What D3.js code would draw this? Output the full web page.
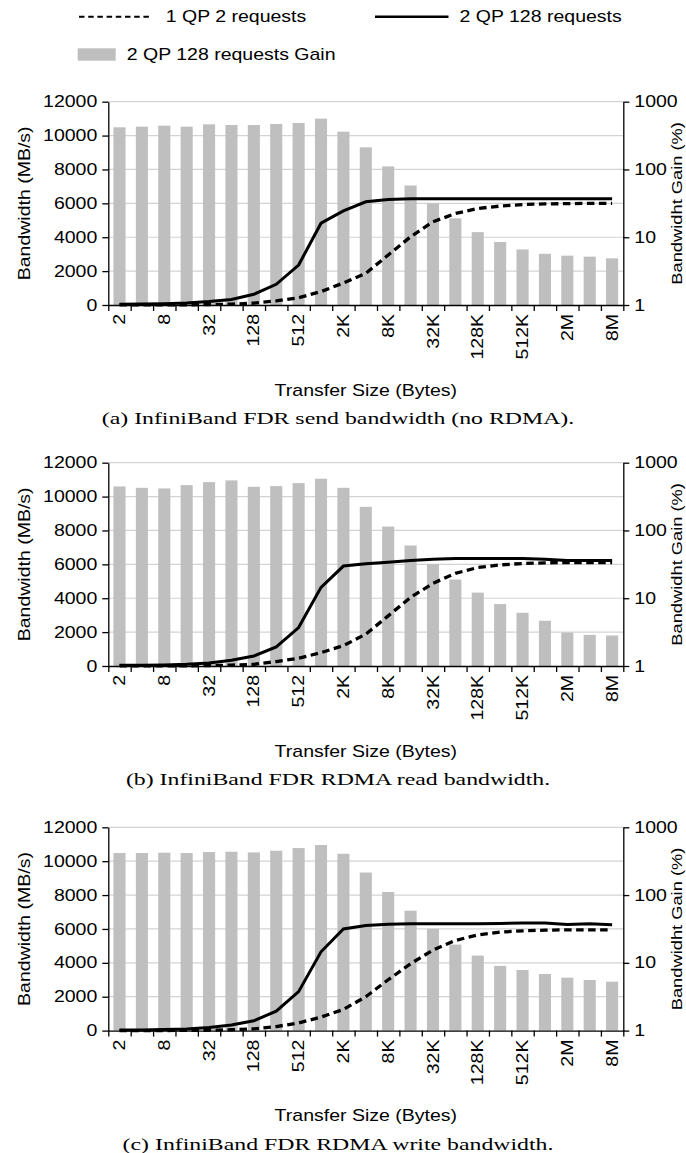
<!DOCTYPE html>
<html>
<head>
<meta charset="utf-8">
<script src="https://cdn.jsdelivr.net/npm/d3@7/dist/d3.min.js"></script>
<style>
  body { margin: 0; background: #fff; }
  svg text { font-family: "Liberation Sans", Arial, sans-serif; fill: #000; }
  .caption { font-family: "Liberation Serif", "Times New Roman", serif; }
</style>
</head>
<body>
<svg id="chart" width="686" height="1153"></svg>
<script>
// transfer sizes (x categories)
const sizes = ["2","4","8","16","32","64","128","256","512","1K","2K","4K","8K",
  "16K","32K","64K","128K","256K","512K","1M","2M","4M","8M"];
const sizeLabels = ["2","8","32","128","512","2K","8K","32K","128K","512K","2M","8M"];
const bwTicks = [0, 2000, 4000, 6000, 8000, 10000, 12000];
const gainTicks = [1, 10, 100, 1000];

// (a) send
const sendQp1 = [2, 3, 6, 12, 25, 50, 110, 240, 430, 790, 1300, 1870, 2950, 4030, 4910, 5400, 5700, 5840, 5930, 5970, 5980, 6000, 6000];
const sendQp2 = [40, 60, 80, 120, 200, 330, 630, 1220, 2360, 4830, 5550, 6090, 6230, 6270, 6270, 6270, 6270, 6270, 6270, 6270, 6270, 6270, 6270];
const sendGain = [419, 428, 443, 428, 464, 453, 453, 469, 485, 562, 361, 212, 111, 58, 31.6, 19, 11.9, 8.5, 6.6, 5.7, 5.35, 5.17, 4.88];

// (b) RDMA read
const readQp1 = [2, 3, 6, 12, 25, 50, 100, 260, 455, 790, 1200, 1880, 2960, 4050, 4880, 5470, 5810, 5970, 6050, 6090, 6110, 6110, 6110];
const readQp2 = [40, 40, 60, 100, 180, 340, 590, 1130, 2270, 4640, 5900, 6030, 6130, 6225, 6300, 6340, 6350, 6350, 6350, 6300, 6230, 6230, 6230];
const readGain = [446, 426, 417, 467, 517, 548, 441, 451, 500, 580, 426, 223, 114, 60, 32, 18.9, 12.1, 8.2, 6.1, 4.65, 3.12, 2.88, 2.82];

// (c) RDMA write
const writeQp1 = [2, 3, 6, 12, 25, 50, 100, 240, 450, 800, 1250, 2000, 3000, 3950, 4750, 5320, 5650, 5810, 5890, 5930, 5950, 5950, 5950];
const writeQp2 = [40, 40, 60, 100, 180, 330, 580, 1150, 2300, 4650, 6000, 6200, 6280, 6300, 6300, 6300, 6300, 6320, 6350, 6350, 6260, 6300, 6250];
const writeGain = [417, 417, 422, 417, 431, 436, 426, 451, 494, 548, 407, 215, 111, 58.8, 31.8, 18.6, 12.8, 9.0, 7.85, 6.84, 6.04, 5.58, 5.27];

const captions = [
  "(a) InfiniBand FDR send bandwidth (no RDMA).",
  "(b) InfiniBand FDR RDMA read bandwidth.",
  "(c) InfiniBand FDR RDMA write bandwidth."
];

const panels = [
  {qp1: sendQp1, qp2: sendQp2, gain: sendGain, caption: captions[0], top: 101.7},
  {qp1: readQp1, qp2: readQp2, gain: readGain, caption: captions[1], top: 462.7},
  {qp1: writeQp1, qp2: writeQp2, gain: writeGain, caption: captions[2], top: 827.3}
];

const SX = 1.22;       // the fonts in the figure are drawn wide
const left = 108.3, right = 623.3, plotH = 203.3;

const svg = d3.select("#chart");

// move x/y of a text into a transform so it can be stretched
function stretch(sel, rot, sx) {
  sel.each(function() {
    let t = d3.select(this);
    let x = +t.attr("x") || 0, y = +t.attr("y") || 0;
    t.attr("x", null).attr("y", null)
      .attr("transform", "translate(" + x + "," + y + ")" + (rot ? " rotate(" + rot + ")" : "") + " scale(" + (sx || SX) + ",1)");
  });
}

function styleAxis(g) {
  g.selectAll("path, line").attr("stroke", "#000").attr("stroke-width", 1.3);
  g.selectAll("text").attr("font-size", 16).attr("fill", "#000")
    .style("font-family", "'Liberation Sans', Arial, sans-serif");
}

// legend
let legend = svg.append("g");
legend.append("line").attr("x1", 79).attr("x2", 152).attr("y1", 16.7).attr("y2", 16.7)
  .attr("stroke", "#000").attr("stroke-width", 2).attr("stroke-dasharray", "5.5,3.7");
legend.append("text").attr("x", 165.7).attr("y", 16.7).attr("dy", "0.35em").attr("font-size", 16)
  .text("1 QP 2 requests").call(stretch, 0);
legend.append("line").attr("x1", 375).attr("x2", 448.5).attr("y1", 16.7).attr("y2", 16.7)
  .attr("stroke", "#000").attr("stroke-width", 2.5);
legend.append("text").attr("x", 459.5).attr("y", 16.7).attr("dy", "0.35em").attr("font-size", 16)
  .text("2 QP 128 requests").call(stretch, 0);
legend.append("rect").attr("x", 77.7).attr("y", 48.3).attr("width", 38).attr("height", 12.4).attr("fill", "#bfbfbf");
legend.append("text").attr("x", 126.7).attr("y", 54.5).attr("dy", "0.35em").attr("font-size", 16)
  .text("2 QP 128 requests Gain").call(stretch, 0);

panels.forEach(function(p) {
  let top = p.top, bottom = top + plotH;

  let x = d3.scaleBand().domain(sizes).range([left, right]).paddingInner(0.46).paddingOuter(0.23);
  let xIdx = d3.scaleLinear().domain([0, sizes.length]).range([left, right]);
  let y = d3.scaleLinear().domain([0, 12000]).range([bottom, top]);
  let yG = d3.scaleLog().domain([1, 1000]).range([bottom, top]);

  let g = svg.append("g");

  // grid
  g.selectAll(".grid").data(bwTicks.slice(1)).enter().append("line")
    .attr("x1", left).attr("x2", right)
    .attr("y1", d => y(d)).attr("y2", d => y(d))
    .attr("stroke", "#d3d3d3").attr("stroke-width", 1.2);

  // gain bars
  g.selectAll(".bar").data(p.gain).enter().append("rect")
    .attr("x", (d, i) => x(sizes[i]))
    .attr("width", x.bandwidth())
    .attr("y", d => yG(d))
    .attr("height", d => bottom - yG(d))
    .attr("fill", "#bfbfbf");

  let cx = (d, i) => x(sizes[i]) + x.bandwidth() / 2;

  g.append("path").datum(p.qp2)
    .attr("d", d3.line().x(cx).y(d => y(d)))
    .attr("fill", "none").attr("stroke", "#000").attr("stroke-width", 3);

  g.append("path").datum(p.qp1)
    .attr("d", d3.line().x(cx).y(d => y(d)))
    .attr("fill", "none").attr("stroke", "#000").attr("stroke-width", 3.3)
    .attr("stroke-dasharray", "7.5,4.5");

  // axes
  let ax = g.append("g").attr("transform", "translate(" + left + ",0)")
    .call(d3.axisLeft(y).tickValues(bwTicks).tickFormat(d3.format("d")).tickSize(6).tickSizeOuter(0).tickPadding(5))
    .call(styleAxis);
  ax.selectAll("text").call(stretch, 0);

  let axR = g.append("g").attr("transform", "translate(" + right + ",0)")
    .call(d3.axisRight(yG).tickValues(gainTicks).tickFormat(d3.format("d")).tickSize(6).tickSizeOuter(0).tickPadding(5))
    .call(styleAxis);
  axR.selectAll("text").call(stretch, 0);

  g.append("g").attr("transform", "translate(0," + bottom + ")")
    .call(d3.axisBottom(xIdx).tickValues(d3.range(sizes.length + 1)).tickFormat("").tickSize(6).tickSizeOuter(0))
    .call(styleAxis);

  let axL = g.append("g").attr("transform", "translate(0," + bottom + ")")
    .call(d3.axisBottom(x).tickValues(sizeLabels).tickSize(0).tickPadding(9))
    .call(styleAxis);
  axL.select(".domain").remove();
  axL.selectAll("text").attr("dy", "0.35em").attr("text-anchor", "end").call(stretch, -90);

  // titles
  g.append("text").attr("x", 24).attr("y", (top + bottom) / 2).attr("dy", "0.35em")
    .attr("text-anchor", "middle").attr("font-size", 16)
    .text("Bandwidth (MB/s)").call(stretch, -90);
  g.append("text").attr("x", 677).attr("y", (top + bottom) / 2).attr("dy", "0.35em")
    .attr("text-anchor", "middle").attr("font-size", 15)
    .text("Bandwidht Gain (%)").call(stretch, -90);
  g.append("text").attr("x", (left + right) / 2).attr("y", bottom + 85).attr("dy", "0.35em")
    .attr("text-anchor", "middle").attr("font-size", 16)
    .text("Transfer Size (Bytes)").call(stretch, 0);
  g.append("text").attr("class", "caption").attr("x", 338).attr("y", bottom + 113).attr("dy", "0.35em")
    .attr("text-anchor", "middle").attr("font-size", 17)
    .text(p.caption).call(stretch, 0, 1.4);
});
</script>
</body>
</html>
